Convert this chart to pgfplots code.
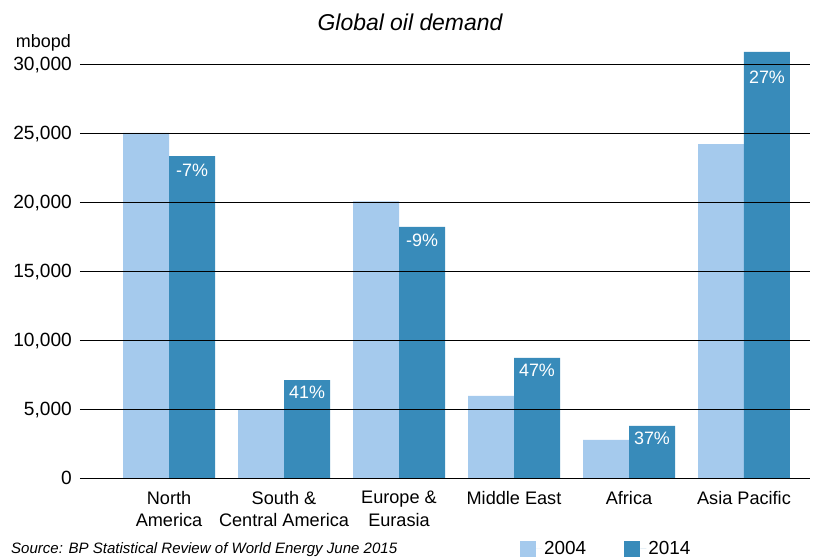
\documentclass[border=0pt]{standalone}
\usepackage{pgfplots}
\pgfplotsset{compat=1.18}
\usepackage{fontspec}
\setmainfont{Liberation Sans}
\definecolor{lightb}{HTML}{A5CAED}
\definecolor{darkb}{HTML}{388BBA}
\begin{document}
\begin{tikzpicture}[x=1bp,y=1bp]
\begin{axis}[
  at={(0bp,0bp)}, anchor=south west,
  scale only axis, width=730bp, height=427.8bp,
  ybar, bar width=0.4,
  xmin=-0.774, xmax=5.574, ymin=0, ymax=31000,
  axis line style={draw=none},
  ymajorgrids, grid style={black, line width=0.9bp},
  ytick={0,5000,10000,15000,20000,25000,30000},
  major tick length=0pt,
  xtick={0,1,2,3,4,5},
  xticklabels={North\\America, South \&\\Central America, Europe \&\\Eurasia, Middle East, Africa, Asia Pacific},
  xticklabel style={align=center, anchor=north, inner sep=0pt, yshift=-13bp,
    font=\fontsize{18.2}{22.7}\selectfont},
  yticklabel style={anchor=base east, inner sep=0pt, xshift=-8bp, yshift=-6.7bp,
    font=\fontsize{19.2}{22}\selectfont},
  scaled y ticks=false,
  /pgf/number format/assume math mode=true,
  /pgf/number format/1000 sep={,},
  axis on top,
  legend columns=2,
  legend image code/.code={\fill[#1] (0bp,-8bp) rectangle (16bp,8bp); \path (16bp,0bp) -- (22bp,0bp);},
  legend style={at={(0.6027,-0.1426)}, anchor=north west, draw=none, fill=none,
    inner sep=0pt, font=\fontsize{19}{22}\selectfont,
    /tikz/every even column/.append style={column sep=36bp}},
]
\addplot[fill=lightb, draw=none, bar shift=-0.2] coordinates {
  (0,25000) (1,5000) (2,20050) (3,5950) (4,2760) (5,24200)};
\addlegendentry{2004}
\addplot[fill=darkb, draw=none, bar shift=0.2] coordinates {
  (0,23330) (1,7100) (2,18190) (3,8700) (4,3770) (5,30870)};
\addlegendentry{2014}
\begin{scope}[every node/.style={text=white, font=\fontsize{18}{20}\selectfont}]
\node at (axis cs:0.2,23330) [yshift=-14bp] {-7\%};
\node at (axis cs:1.2,7100) [yshift=-12bp] {41\%};
\node at (axis cs:2.2,18190) [yshift=-13bp] {-9\%};
\node at (axis cs:3.2,8700) [yshift=-12bp] {47\%};
\node at (axis cs:4.2,3770) [yshift=-12bp] {37\%};
\node at (axis cs:5.2,30870) [yshift=-25bp] {27\%};
\end{scope}
\end{axis}
\node[font=\fontsize{23}{26}\selectfont\itshape] at (330bp,456bp) {Global oil demand};
\node[font=\fontsize{18}{20}\selectfont, anchor=base east, inner sep=0pt] at (-9bp,430bp) {mbopd};
\node[font=\fontsize{15.1}{18}\selectfont\itshape, anchor=base west, inner sep=0pt] at (-69bp,-75.5bp) {Source: BP Statistical Review of World Energy June 2015};
\pgfresetboundingbox
\path[use as bounding box] (-80bp,-80bp) rectangle (739bp,478bp);
\end{tikzpicture}
\end{document}
